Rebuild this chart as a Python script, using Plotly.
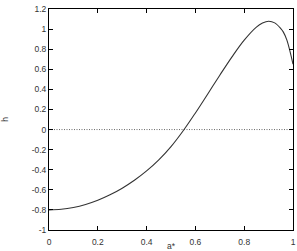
import plotly.graph_objects as go

a_vals = [0.0, 0.05, 0.1, 0.15, 0.2, 0.25, 0.3, 0.35, 0.4, 0.45, 0.5, 0.55, 0.6, 0.65, 0.7, 0.75, 0.8, 0.85, 0.875, 0.9, 0.925, 0.95, 0.96, 0.975, 1.0]
h_vals = [-0.800, -0.794, -0.776, -0.746, -0.704, -0.650, -0.584, -0.505, -0.412, -0.302, -0.170, -0.012, 0.165, 0.352, 0.541, 0.724, 0.890, 1.020, 1.060, 1.078, 1.062, 1.005, 0.972, 0.890, 0.650]
zero_x = [0.0, 1.0]
zero_y = [0.0, 0.0]
x_ticks = [0, 0.2, 0.4, 0.6, 0.8, 1]
x_labels = ["0", "0.2", "0.4", "0.6", "0.8", "1"]
y_ticks = [-1, -0.8, -0.6, -0.4, -0.2, 0, 0.2, 0.4, 0.6, 0.8, 1, 1.2]
y_labels = ["-1", "-0.8", "-0.6", "-0.4", "-0.2", "0", "0.2", "0.4", "0.6", "0.8", "1", "1.2"]

font = dict(family="Liberation Sans, Arial", size=8.5, color="#333333")

fig = go.Figure()
fig.add_trace(go.Scatter(x=zero_x, y=zero_y, mode="lines",
                         line=dict(color="#444444", width=0.8, dash="1px,1.5px"),
                         hoverinfo="skip", showlegend=False))
fig.add_trace(go.Scatter(x=a_vals, y=h_vals, mode="lines", line_shape="spline",
                         line=dict(color="#333333", width=1.1, smoothing=1.0), showlegend=False))

axis_common = dict(showgrid=False, zeroline=False, showline=True, linecolor="black",
                   linewidth=1, mirror="allticks", ticks="inside", ticklen=4,
                   tickcolor="black", tickwidth=1, tickfont=font)

fig.update_xaxes(range=[0, 1], tickvals=x_ticks, ticktext=x_labels,
                 ticklabelstandoff=4,
                 title=dict(text="a*", font=font, standoff=0),
                 **axis_common)
fig.update_yaxes(range=[-1, 1.2], tickvals=y_ticks, ticktext=y_labels,
                 title=dict(text="h", font=font, standoff=22),
                 **axis_common)

fig.update_layout(width=297, height=251, margin=dict(l=49, r=4, t=9, b=21, autoexpand=False),
                  plot_bgcolor="white", paper_bgcolor="white")
fig.write_html("out.html")
